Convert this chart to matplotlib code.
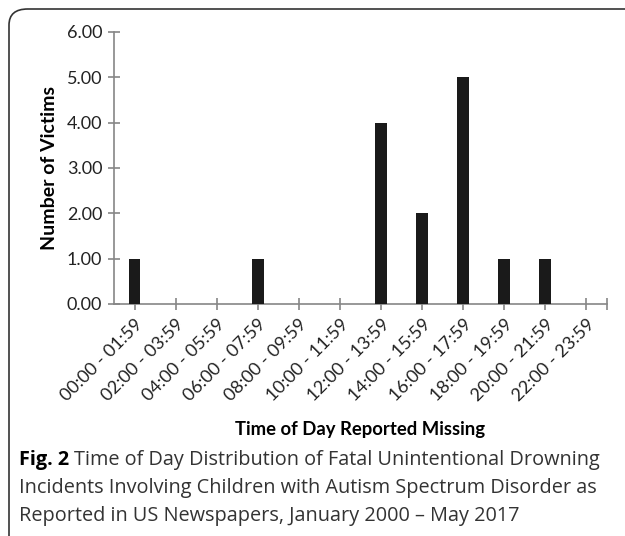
import matplotlib
matplotlib.use("Agg")
import matplotlib.pyplot as plt
from matplotlib.patches import FancyBboxPatch

# Data
time_slots = ["00:00 - 01:59", "02:00 - 03:59", "04:00 - 05:59", "06:00 - 07:59",
              "08:00 - 09:59", "10:00 - 11:59", "12:00 - 13:59", "14:00 - 15:59",
              "16:00 - 17:59", "18:00 - 19:59", "20:00 - 21:59", "22:00 - 23:59"]
victims = [1, 0, 0, 1, 0, 0, 4, 2, 5, 1, 1, 0]
y_ticks = [0, 1, 2, 3, 4, 5, 6]

W, H = 625, 536
CHART_FONT = "Lato"
CAPTION_FONT = "Open Sans"
AXIS_COLOR = "#868686"

fig = plt.figure(figsize=(W / 100, H / 100), dpi=100)

# rounded frame, runs off the right and bottom edges like the reference
frame = FancyBboxPatch((9 / W, -20 / H), 640 / W, (H - 9 + 20) / H,
                       boxstyle="round,pad=0,rounding_size=0.03",
                       transform=fig.transFigure, fill=False,
                       edgecolor="#333333", linewidth=1.2)
fig.patches.append(frame)

ax = fig.add_axes([114 / W, 1 - 304 / H, 493 / W, 272 / H])
x = list(range(len(time_slots)))
ax.bar(x, victims, width=0.29, color="#1a1a1a", zorder=3)

ax.set_xlim(-0.5, len(time_slots) - 0.5)
ax.set_ylim(0, 6)
ax.set_yticks(y_ticks)
ax.set_yticklabels([f"{v:.2f}" for v in y_ticks], fontsize=13,
                   family=CHART_FONT, color="#222222")
ax.set_xticks(x + [len(time_slots) - 0.5])
ax.set_xticklabels(time_slots + [""], rotation=45, ha="right",
                   rotation_mode="anchor", fontsize=13, family=CHART_FONT,
                   color="#222222")

for s in ["top", "right"]:
    ax.spines[s].set_visible(False)
for s in ["left", "bottom"]:
    ax.spines[s].set_color(AXIS_COLOR)
    ax.spines[s].set_linewidth(1.2)
ax.tick_params(axis="both", direction="inout", length=9, width=1.2,
               color=AXIS_COLOR, pad=4)

ax.set_ylabel("Number of Victims", fontsize=14, fontweight="bold",
              family=CHART_FONT, labelpad=6)
ax.set_xlabel("Time of Day Reported Missing", fontsize=13.3, fontweight="bold",
              family=CHART_FONT, labelpad=12)

# caption: bold "Fig. 2" followed by regular text
cap_x = 19 / W
lines_y = [460, 488, 516]
fig.canvas.draw()
renderer = fig.canvas.get_renderer()
t_bold = fig.text(cap_x, 1 - lines_y[0] / H, "Fig. 2", fontsize=14.3,
                  fontweight="bold", family=CAPTION_FONT, va="center")
bb = t_bold.get_window_extent(renderer=renderer)
fig.text(bb.x1 / W + 5 / W, 1 - lines_y[0] / H,
         "Time of Day Distribution of Fatal Unintentional Drowning",
         fontsize=14.3, family=CAPTION_FONT, va="center", color="#333333")
fig.text(cap_x, 1 - lines_y[1] / H,
         "Incidents Involving Children with Autism Spectrum Disorder as",
         fontsize=14.3, family=CAPTION_FONT, va="center", color="#333333")
fig.text(cap_x, 1 - lines_y[2] / H,
         "Reported in US Newspapers, January 2000 \u2013 May 2017",
         fontsize=14.3, family=CAPTION_FONT, va="center", color="#333333")

fig.savefig("out.png", dpi=100)
